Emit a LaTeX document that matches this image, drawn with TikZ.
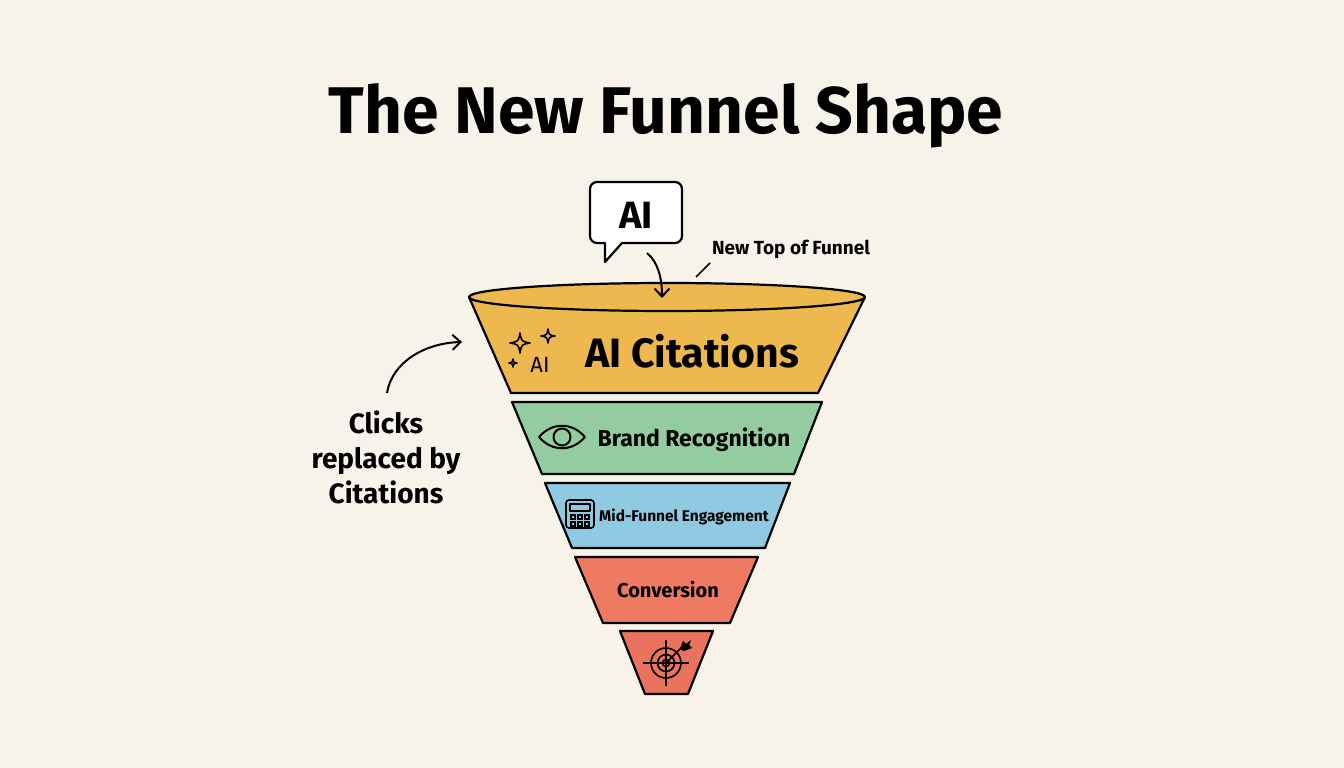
\documentclass[tikz,border=0pt]{standalone}
\usepackage{fontspec}
\setmainfont{Fira Sans}
\usetikzlibrary{arrows.meta}
\definecolor{paper}{HTML}{F8F3E8}
\definecolor{aiyellow}{HTML}{EDB94F}
\definecolor{brandgreen}{HTML}{93CC9E}
\definecolor{midblue}{HTML}{8FC9E2}
\definecolor{convred}{HTML}{EE7A62}
\definecolor{goalred}{HTML}{E9735C}
\newcommand\fsz[1]{\fontsize{#1}{#1}\selectfont\bfseries}
\tikzset{
  band/.style={draw=black, line width=2.2pt, line join=round},
  note/.style={line width=2pt, -{Straight Barb[length=8pt,width=15pt,line width=2pt]}},
  icon/.style={line width=1.6pt, line join=round},
  sparkle/.pic={\draw[icon] (0,-1) .. controls (0.15,-0.15) .. (1,0) .. controls (0.15,0.15) .. (0,1) .. controls (-0.15,0.15) .. (-1,0) .. controls (-0.15,-0.15) .. cycle;}
}
\begin{document}
\begin{tikzpicture}[x=1pt,y=-1pt]
      \useasboundingbox[fill=paper] (0,0) rectangle (1344,768);
      \node[anchor=base] (title) at (666,133) {\fsz{66}The New Funnel Shape};
      \fill[band, fill=aiyellow] (469,297) -- (511,393) -- (818,393) -- (865,297) -- cycle;
      \draw[band, fill=aiyellow] (667,297) ellipse [x radius=198, y radius=14];
      \fill[band, fill=brandgreen] (512,402) -- (542,474) -- (794,474) -- (822,402) -- cycle;
      \fill[band, fill=midblue] (545,483) -- (572,548) -- (765,548) -- (790,483) -- cycle;
      \fill[band, fill=convred] (575,557) -- (603,623) -- (730,623) -- (758,557) -- cycle;
      \fill[band, fill=goalred] (620,631) -- (645,694) -- (688,694) -- (713,631) -- cycle;
      \draw[band, fill=white] (605,262) -- (605,243) [rounded corners=7] -- (590,243) -- (590,182) -- (682,182) -- (682,243) [sharp corners] -- (622,243) -- cycle;
      \node[anchor=base] (aibubble) at (636,228) {\fsz{38}AI};
      \coordinate (bubbletail) at (647,253);
      \coordinate (rimtop) at (662,298);
      \draw[note] (bubbletail) .. controls (658,262) and (662,278) .. (rimtop);
      \node[anchor=base] (newtop) at (791,254) {\fsz{19}New Top of Funnel};
      \coordinate (rimleader) at (696,277);
      \draw[line width=1.6pt] (710,263) -- (rimleader);
      \node[anchor=base] (citations) at (692,367) {\fsz{41}AI Citations};
      \pic[scale=10] at (520,343) {sparkle};
      \pic[scale=7] at (548,336) {sparkle};
      \pic[scale=4] at (513,363) {sparkle};
      \node[anchor=base] (aiicon) at (540,372) {\fontsize{22}{22}\selectfont AI};
      \node[anchor=base] (brand) at (694,446) {\fsz{23}Brand Recognition};
      \draw[icon, line width=2pt] (539,437) .. controls (552,422) and (572,422) .. (585,437) .. controls (572,452) and (552,452) .. cycle;
      \draw[icon, line width=2pt] (562,437) circle [radius=8.5];
      \node[anchor=base] (midfunnel) at (684,521) {\fsz{15.5}Mid-Funnel Engagement};
      \draw[icon, rounded corners=3] (566,500) rectangle (594,528);
      \draw[icon, line width=1.2pt] (570,504) rectangle (590,511);
      \foreach \bx in {571,578,585}
        \foreach \by in {515,522}
          \draw[line width=1.1pt] (\bx,\by) rectangle ++(4,4);
      \node[anchor=base] (conversion) at (668,597) {\fsz{20}Conversion};
      \draw[icon] (666,663) circle [radius=15] (666,663) circle [radius=8.5] (666,663) circle [radius=3.5];
      \draw[icon] (643,663) -- (689,663) (666,640) -- (666,686);
      \draw[icon] (666,663) -- (682,647);
      \fill (680,649) -- (683,641) -- (686,644) -- (691,640) -- (689,645) -- (692,648) -- (684,651) -- cycle;
      \node[align=center, anchor=north, font={\fontsize{28}{35}\selectfont\bfseries}] (clicks) at (386,407) {Clicks\\replaced by\\Citations};
      \coordinate (clickstart) at (387,393);
      \coordinate (bandleft) at (462,342);
      \draw[note] (clickstart) .. controls (392,362) and (425,343) .. (bandleft);
\end{tikzpicture}
\end{document}
